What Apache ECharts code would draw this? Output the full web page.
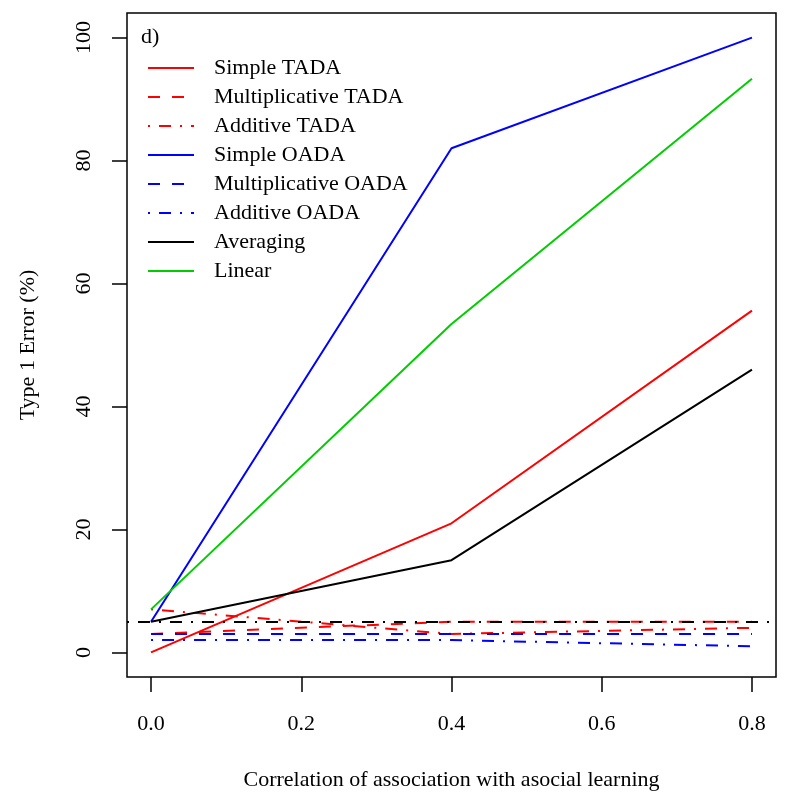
<!DOCTYPE html>
<html>
<head>
<meta charset="utf-8">
<script src="https://cdn.jsdelivr.net/npm/echarts@6/dist/echarts.min.js"></script>
<style>
html,body{margin:0;padding:0;background:#fff;}
#chart{width:788px;height:793px;}
</style>
</head>
<body>
<div id="chart"></div>
<script>
var xValues = [0, 0.4, 0.8];
var xTicks = [0, 0.2, 0.4, 0.6, 0.8];
var yTicks = [0, 20, 40, 60, 80, 100];
var simpleTADA = [0, 21, 55.6];
var multTADA = [3, 5, 5];
var addTADA = [7, 3, 4];
var simpleOADA = [5, 82, 100];
var multOADA = [3, 3, 3];
var addOADA = [2, 2, 1];
var averaging = [5, 15, 46];
var linear = [7, 53.4, 93.3];
var refLevel = 5;
var seriesNames = ['Simple TADA','Multiplicative TADA','Additive TADA','Simple OADA','Multiplicative OADA','Additive OADA','Averaging','Linear'];

var FONT = 'Liberation Serif';
var DASH = [12, 12];
var DOTDASH = [2, 9, 12, 9];

function pairs(vals){ return xValues.map(function(x,i){ return [x, vals[i]]; }); }
function mk(name, vals, color, type){
  return {
    name: name, type: 'line', data: pairs(vals), symbol: 'none', showSymbol: false,
    lineStyle: {color: color, width: 2, type: type}, itemStyle: {color: color},
    emphasis: {disabled: true}, animation: false, z: 2
  };
}

var chart = echarts.init(document.getElementById('chart'), null, {renderer: 'canvas'});
chart.setOption({
  animation: false,
  backgroundColor: '#fff',
  title: {text: 'd)', left: 141, top: 26, padding: 0,
    textStyle: {fontFamily: FONT, fontSize: 22, fontWeight: 'normal', color: '#000'}},
  legend: {
    data: seriesNames, orient: 'vertical', left: 147, top: 57, padding: 0,
    itemWidth: 46, itemHeight: 22, itemGap: 7,
    itemStyle: {opacity: 0},
    textStyle: {fontFamily: FONT, fontSize: 22, color: '#000', lineHeight: 22, padding: [0,0,0,15]},
    selectedMode: false
  },
  grid: {left: 127, right: 12, top: 13, bottom: 116, outerBoundsMode: 'none', containLabel: false,
    show: true, borderColor: '#000', borderWidth: 1.5, backgroundColor: 'transparent'},
  xAxis: {
    type: 'value', min: -0.032, max: 0.832,
    name: 'Correlation of association with asocial learning', nameLocation: 'middle', nameGap: 92,
    nameMoveOverlap: false,
    nameTextStyle: {fontFamily: FONT, fontSize: 22, color: '#000'},
    axisLine: {show: false, onZero: false},
    axisTick: {show: true, customValues: xTicks, length: 15, lineStyle: {color: '#000', width: 1.5}},
    axisLabel: {customValues: xTicks, margin: 36, fontFamily: FONT, fontSize: 22, color: '#000',
      formatter: function(v){ return v.toFixed(1); }},
    splitLine: {show: false}
  },
  yAxis: {
    type: 'value', min: -4, max: 104,
    name: 'Type 1 Error (%)', nameLocation: 'middle', nameGap: 88, nameRotate: 90,
    nameMoveOverlap: false,
    nameTextStyle: {fontFamily: FONT, fontSize: 22, color: '#000'},
    axisLine: {show: false, onZero: false},
    axisTick: {show: true, customValues: yTicks, length: 15, lineStyle: {color: '#000', width: 1.5}},
    axisLabel: {customValues: yTicks, margin: 32, rotate: 90, fontFamily: FONT, fontSize: 22, color: '#000'},
    splitLine: {show: false}
  },
  series: [
    mk('Simple TADA', simpleTADA, '#ff0000', 'solid'),
    mk('Multiplicative TADA', multTADA, '#ff0000', DASH),
    mk('Additive TADA', addTADA, '#ff0000', DOTDASH),
    mk('Simple OADA', simpleOADA, '#0000ff', 'solid'),
    mk('Multiplicative OADA', multOADA, '#0000ff', DASH),
    mk('Additive OADA', addOADA, '#0000ff', DOTDASH),
    mk('Averaging', averaging, '#000000', 'solid'),
    mk('Linear', linear, '#00cd00', 'solid'),
    {
      name: 'ref', type: 'line', data: [], symbol: 'none', silent: true,
      markLine: {silent: true, symbol: 'none', label: {show: false}, animation: false,
        lineStyle: {color: '#000', width: 2, type: DOTDASH},
        emphasis: {disabled: true},
        data: [{yAxis: refLevel}]}
    }
  ]
});
</script>
</body>
</html>
